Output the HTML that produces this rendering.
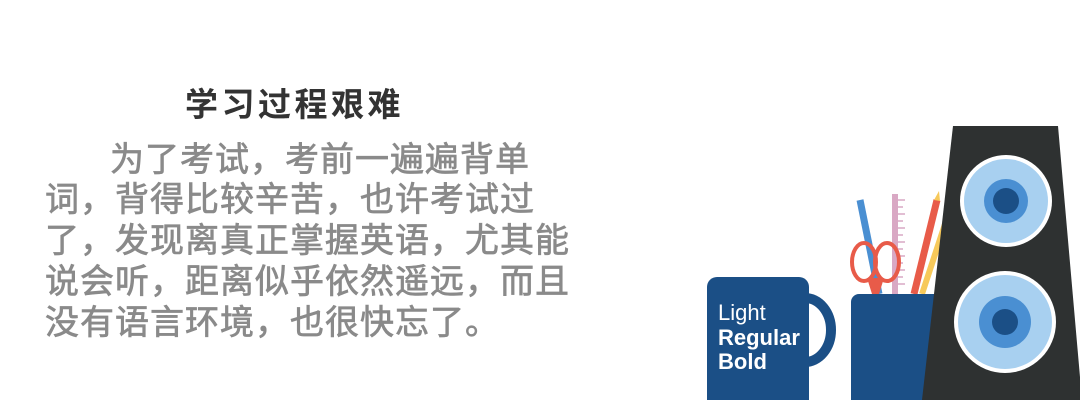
<!DOCTYPE html>
<html><head><meta charset="utf-8"><style>
body{margin:0;width:1080px;height:400px;background:#fff;overflow:hidden;position:relative;font-family:"WenQuanYi Zen Hei","Noto Sans CJK SC",sans-serif}
.t{position:absolute;left:185px;top:78px;font-size:33px;font-weight:bold;color:#333;letter-spacing:3.5px;white-space:nowrap}
.l{position:absolute;left:45px;font-size:34px;color:#8a8a8a;-webkit-text-stroke:0.7px #8a8a8a;letter-spacing:1px;white-space:nowrap;line-height:40px}
svg{position:absolute;left:0;top:0}
</style></head><body>
<div class="t">学习过程艰难</div>
<div>
<div class="l" style="top:137px;left:110px">为了考试，考前一遍遍背单</div>
<div class="l" style="top:177px">词，背得比较辛苦，也许考试过</div>
<div class="l" style="top:218px">了，发现离真正掌握英语，尤其能</div>
<div class="l" style="top:259px">说会听，距离似乎依然遥远，而且</div>
<div class="l" style="top:300px">没有语言环境，也很快忘了。</div>
</div>
<svg width="1080" height="400">
<g>
<path d="M805 298 a26 32 0 0 1 0 64" fill="none" stroke="#1b4f86" stroke-width="10"/>
<rect x="707" y="277" width="102" height="135" rx="10" fill="#1b4f86"/>
<text x="718" y="320" font-size="22" fill="#fff" font-family="Liberation Sans">Light</text>
<text x="718" y="345" font-size="22" font-weight="bold" fill="#fff" font-family="Liberation Sans">Regular</text>
<text x="718" y="369" font-size="22" font-weight="bold" fill="#fff" font-family="Liberation Sans">Bold</text>
</g>
<g>
<line x1="860" y1="200" x2="879" y2="294" stroke="#4a8fd2" stroke-width="7"/>
<rect x="892" y="194" width="6" height="100" fill="#d9a8c4"/>
<g stroke="#d9a8c4" stroke-width="1.5">
<line x1="898" y1="200" x2="905" y2="200"/><line x1="898" y1="207" x2="903" y2="207"/><line x1="898" y1="214" x2="905" y2="214"/><line x1="898" y1="221" x2="903" y2="221"/><line x1="898" y1="228" x2="905" y2="228"/><line x1="898" y1="235" x2="903" y2="235"/><line x1="898" y1="242" x2="905" y2="242"/><line x1="898" y1="249" x2="903" y2="249"/><line x1="898" y1="256" x2="905" y2="256"/><line x1="898" y1="263" x2="903" y2="263"/><line x1="898" y1="270" x2="905" y2="270"/><line x1="898" y1="277" x2="903" y2="277"/><line x1="898" y1="284" x2="905" y2="284"/></g>
<line x1="947" y1="218" x2="922" y2="294" stroke="#f7c95a" stroke-width="6"/>
<line x1="937" y1="200" x2="914" y2="294" stroke="#e85b49" stroke-width="7"/>
<polygon points="934,200 940,201 939,191" fill="#f7c95a"/>
<ellipse cx="864" cy="262" rx="12" ry="19" fill="none" stroke="#e85b49" stroke-width="4"/>
<ellipse cx="887" cy="262" rx="12" ry="19" fill="none" stroke="#e85b49" stroke-width="4"/>
<polygon points="867,278 884,278 879,294 872,294" fill="#e85b49"/>
<rect x="851" y="294" width="95" height="120" rx="8" fill="#1b4f86"/>
</g>
<g>
<polygon points="953,126 1058,126 1082,400 922,400" fill="#2e3131"/>
<circle cx="1006" cy="201" r="46" fill="#fff"/><circle cx="1006" cy="201" r="42" fill="#a8d0f0"/><circle cx="1006" cy="201" r="22" fill="#4a8fd2"/><circle cx="1006" cy="201" r="13" fill="#1b4f86"/>
<circle cx="1005" cy="322" r="51" fill="#fff"/><circle cx="1005" cy="322" r="47" fill="#a8d0f0"/><circle cx="1005" cy="322" r="26" fill="#4a8fd2"/><circle cx="1005" cy="322" r="13" fill="#1b4f86"/>
</g>
</svg>
</body></html>
